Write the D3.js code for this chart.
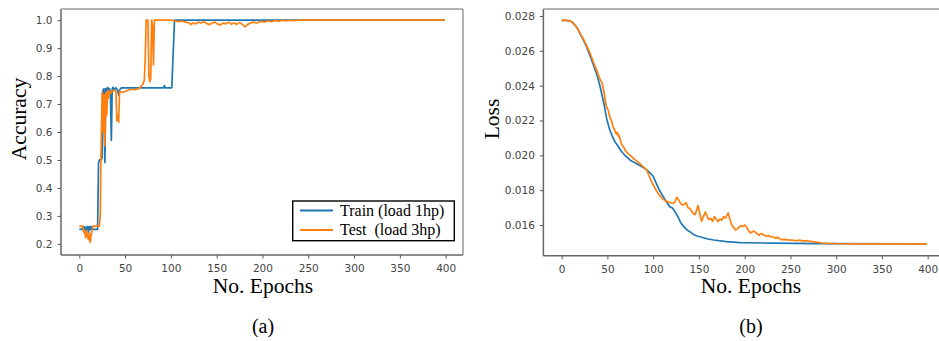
<!DOCTYPE html>
<html>
<head>
<meta charset="utf-8">
<script src="https://cdn.jsdelivr.net/npm/d3@7"></script>
<style>
  body { margin: 0; background: #fff; }
  svg { display: block; }
  .tick text { font-family: "DejaVu Sans", sans-serif; font-size: 10.5px; fill: #444; }
  .tick line { stroke: #555; }
  .serif { font-family: "Liberation Serif", "Times New Roman", serif; fill: #000; }
</style>
</head>
<body>
<svg id="fig" width="939" height="341"></svg>
<script>
// ---- data: [epoch, value] ----
const seriesNames = ["Train (load 1hp)", "Test  (load 3hp)"];
const seriesColors = ["#1f77b4", "#ff7f0e"];

const epochTicks = [0, 50, 100, 150, 200, 250, 300, 350, 400];
const accTicks = [0.2, 0.3, 0.4, 0.5, 0.6, 0.7, 0.8, 0.9, 1.0];
const lossTicks = [0.016, 0.018, 0.020, 0.022, 0.024, 0.026, 0.028];

const trainAcc = [
  [0,.252],[3,.252],[4,.262],[5,.245],[6,.262],[7,.236],[8,.258],[9,.262],[10,.242],[11,.262],
  [12,.25],[13,.262],[14,.252],[20,.252],[21,.49],[22,.50],[24,.50],[25,.51],[26,.75],[27,.755],
  [28,.49],[29,.755],[30,.748],[31,.76],[32,.75],[33,.755],[34,.745],[35,.57],[36,.755],[37,.76],
  [38,.75],[40,.758],[42,.748],[43,.732],[44,.75],[46,.758],[92,.758],[93,.766],[94,.758],
  [101,.758],[104,1.0],[399,1.0]
];

const testAcc = [
  [0,.263],[4,.263],[5,.24],[6,.25],[7,.222],[8,.245],[9,.228],[10,.215],[11,.238],[12,.205],
  [13,.232],[14,.25],[15,.263],[22,.263],[23,.31],[23.5,.48],[25,.742],[26,.60],[27,.735],[28,.55],
  [29,.74],[30,.66],[31,.745],[32,.72],[33,.75],[34,.738],[36,.745],[38,.75],[40,.745],[41,.64],
  [42,.66],[43,.635],[44,.745],[46,.742],[50,.745],[55,.752],[62,.752],[66,.757],[68,.765],[70,.775],
  [71,.785],[72,.86],[73,1.0],[75,1.0],[76,.80],[77,.78],[78,.79],[79,1.0],[80,.98],[81,.84],
  [82,1.0],[100,1.0],[104,.998],[108,.995],[112,.997],[116,.993],[120,.99],[122,.984],[124,.99],
  [127,.987],[130,.993],[133,.99],[136,.995],[139,.988],[142,.984],[145,.99],[148,.993],[151,.986],
  [154,.983],[157,.99],[160,.987],[163,.993],[166,.986],[169,.99],[172,.985],[175,.992],[178,.985],
  [181,.976],[184,.985],[187,.99],[190,.993],[194,.99],[198,.996],[202,.993],[206,.998],[210,.995],
  [214,.999],[218,.996],[222,1.0],[226,.997],[230,1.0],[234,.998],[240,1.0],[399,1.0]
];

const trainLoss = [
  [0,.02775],[5,.02775],[9,.02772],[12,.02762],[15,.02745],[18,.02722],[21,.02690],[24,.02660],
  [27,.02625],[30,.02585],[33,.02545],[36,.02500],[39,.02455],[42,.02395],[45,.02325],[47,.02275],
  [49,.02215],[51,.02175],[53,.02140],[55,.02115],[58,.02080],[61,.02058],[65,.02025],[70,.01995],
  [75,.01972],[80,.01958],[86,.01940],[90,.01928],[93,.01916],[97,.01898],[100,.01880],[104,.01832],
  [107,.01798],[111,.01763],[114,.01738],[118,.01705],[121,.01698],[124,.01676],[127,.01648],
  [130,.01615],[133,.01594],[137,.01572],[140,.01562],[144,.01546],[148,.01537],[153,.01530],
  [160,.01520],[166,.01514],[180,.01505],[195,.01499],[230,.01496],[280,.01493],[399,.01492]
];

const testLoss = [
  [0,.02775],[5,.02775],[9,.02772],[12,.02762],[15,.02745],[18,.02722],[21,.02692],[24,.02665],
  [27,.02632],[30,.02598],[33,.02560],[35,.02530],[37,.02505],[39,.02478],[40,.02462],[41,.02448],
  [42,.02438],[43,.02425],[44,.02420],[45,.02395],[46,.02370],[47,.02338],[48,.02300],[49,.02280],
  [50,.02268],[51,.02258],[52,.02232],[53,.02215],[54,.02205],[55,.02190],[56,.02165],[57,.02155],
  [58,.02145],[59,.02130],[60,.02122],[61,.02132],[62,.02108],[63,.02115],[64,.02090],[65,.02072],
  [66,.02060],[68,.02045],[70,.02025],[73,.02008],[76,.01995],[79,.01980],[82,.01968],[85,.01955],
  [88,.01940],[91,.01926],[93,.01915],[95,.01890],[97,.01865],[99,.01840],[101,.01822],[104,.01792],
  [107,.01770],[110,.01752],[113,.01740],[116,.01733],[119,.01728],[122,.01725],[124,.01735],
  [125,.01748],[126,.01758],[127,.01752],[129,.01732],[131,.01718],[133,.01716],[135,.01722],
  [136,.01728],[138,.01700],[140,.01695],[142,.01680],[144,.01665],[146,.01660],[148,.01695],
  [149,.01712],[150,.01690],[152,.01640],[153,.01622],[155,.01650],[157,.01675],[159,.01650],
  [161,.01632],[163,.01638],[165,.01622],[167,.01648],[169,.01635],[171,.01620],[173,.01635],
  [175,.01628],[177,.01648],[179,.01640],[181,.01658],[182,.01670],[184,.01630],[186,.01600],
  [188,.01585],[190,.01572],[192,.01578],[194,.01588],[196,.01596],[198,.01592],[200,.01600],
  [202,.01588],[204,.01570],[206,.01555],[208,.01560],[210,.01565],[212,.01558],[214,.01548],
  [216,.01542],[218,.01552],[220,.01546],[222,.01540],[224,.01536],[226,.01540],[228,.01532],
  [230,.01534],[232,.01530],[234,.01524],[236,.01530],[238,.01522],[240,.01516],[244,.01518],
  [248,.01513],[252,.01514],[256,.01510],[260,.01513],[264,.01508],[268,.01510],[272,.01506],
  [276,.01503],[280,.01500],[284,.01497],[290,.01495],[300,.01493],[320,.01492],[399,.01492]
];

// ---- layout ----
const svg = d3.select("#fig");

function panel(opts) {
  const { left, right, top, bottom, yDomain, yTicks, yFmt, series, yLabel, yLabelX,
          xLabelX, caption, showRightSpine } = opts;
  const x = d3.scaleLinear().domain([-19.95, 418.95]).range([left, right]);
  const y = d3.scaleLinear().domain(yDomain).range([bottom, top]);
  const g = svg.append("g");

  // series lines
  const line = d3.line().x(d => x(d[0])).y(d => y(d[1]));
  series.forEach((s, i) => {
    g.append("path").datum(s)
      .attr("fill", "none")
      .attr("stroke", seriesColors[i])
      .attr("stroke-width", 1.7)
      .attr("stroke-linejoin", "round")
      .attr("d", line);
  });

  // axes
  const xAxis = g.append("g").attr("transform", `translate(0,${bottom})`)
    .call(d3.axisBottom(x).tickValues(epochTicks).tickSize(3.5).tickSizeOuter(0).tickPadding(6));
  const yAxis = g.append("g").attr("transform", `translate(${left},0)`)
    .call(d3.axisLeft(y).tickValues(yTicks).tickFormat(d3.format(yFmt)).tickSize(3.5).tickSizeOuter(0).tickPadding(5));
  xAxis.select(".domain").remove();
  yAxis.select(".domain").remove();

  // frame
  const spine = (x1, y1, x2, y2, c) => g.append("line")
    .attr("x1", x1).attr("y1", y1).attr("x2", x2).attr("y2", y2)
    .attr("stroke", c).attr("stroke-width", 1.5);
  spine(left, top, left, bottom, "#666");
  spine(left, bottom, right, bottom, "#666");
  spine(left, top, right, top, "#999");
  if (showRightSpine) spine(right, top, right, bottom, "#999");

  // labels
  g.append("text").attr("class", "serif")
    .attr("x", xLabelX).attr("y", 293).attr("text-anchor", "middle")
    .style("font-size", "21.5px").text("No. Epochs");
  g.append("text").attr("class", "serif")
    .attr("transform", `translate(${yLabelX},119) rotate(-90)`)
    .attr("text-anchor", "middle").style("font-size", "21.5px").text(yLabel);
  g.append("text").attr("class", "serif")
    .attr("x", xLabelX).attr("y", 333).attr("text-anchor", "middle")
    .style("font-size", "20px").text(caption);
  return { g, x, y };
}

const pa = panel({
  left: 61, right: 463, top: 9, bottom: 255,
  yDomain: [0.16, 1.04], yTicks: accTicks, yFmt: ".1f",
  series: [trainAcc, testAcc], yLabel: "Accuracy", yLabelX: 26,
  xLabelX: 263, caption: "(a)", showRightSpine: true
});

panel({
  left: 543.4, right: 945, top: 9, bottom: 255.7,
  yDomain: [0.01424, 0.02840], yTicks: lossTicks, yFmt: ".3f",
  series: [trainLoss, testLoss], yLabel: "Loss", yLabelX: 499,
  xLabelX: 751, caption: "(b)", showRightSpine: false
});

// legend on the accuracy panel
const leg = pa.g.append("g");
leg.append("rect")
  .attr("x", 292.7).attr("y", 201).attr("width", 161.6).attr("height", 39.7)
  .attr("fill", "#fff").attr("stroke", "#000").attr("stroke-width", 1.4);
seriesNames.forEach((name, i) => {
  const yy = 210.5 + i * 19.5;
  leg.append("line").attr("x1", 300).attr("x2", 333).attr("y1", yy).attr("y2", yy)
    .attr("stroke", seriesColors[i]).attr("stroke-width", 1.9);
  leg.append("text").attr("class", "serif")
    .attr("x", 340).attr("y", yy + 5)
    .style("font-size", "16px").style("white-space", "pre")
    .text(name);
});
</script>
</body>
</html>
